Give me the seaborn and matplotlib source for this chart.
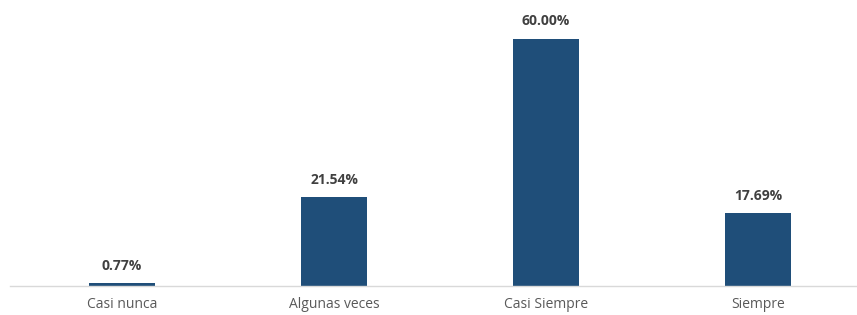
import matplotlib
matplotlib.use('Agg')
import matplotlib.pyplot as plt
import seaborn as sns
import pandas as pd

categorias = ['Casi nunca', 'Algunas veces', 'Casi Siempre', 'Siempre']
porcentajes = [0.77, 21.54, 60.00, 17.69]

df = pd.DataFrame({'Categoria': categorias, 'Porcentaje': porcentajes})

sns.set_style('white')
plt.rcParams['font.family'] = ['Open Sans', 'DejaVu Sans']

fig = plt.figure(figsize=(8.57, 3.15), dpi=100)
ax = fig.add_axes([10 / 857, 29 / 315, 847 / 857, 268 / 315])

sns.barplot(data=df, x='Categoria', y='Porcentaje', color='#1F4E79',
            width=0.31, saturation=1, linewidth=0, ax=ax)

for i, v in enumerate(porcentajes):
    ax.text(i, v + 2.5, f'{v:.2f}%', ha='center', va='bottom',
            fontsize=10, fontweight='bold', color='#404040', clip_on=False)

# category spacing of ~212 px, first centre at ~122 px
ax.set_xlim(-0.5 - 6 / 212, -0.5 - 6 / 212 + 847 / 212)
ax.set_ylim(0, 65)
ax.set_xlabel('')
ax.set_ylabel('')
ax.set_yticks([])
ax.tick_params(axis='x', length=0, pad=8, labelsize=10, labelcolor='#595959')
for s in ['top', 'right', 'left']:
    ax.spines[s].set_visible(False)
ax.spines['bottom'].set_color('#D9D9D9')
ax.spines['bottom'].set_linewidth(1)

fig.savefig('out.png', dpi=100)
